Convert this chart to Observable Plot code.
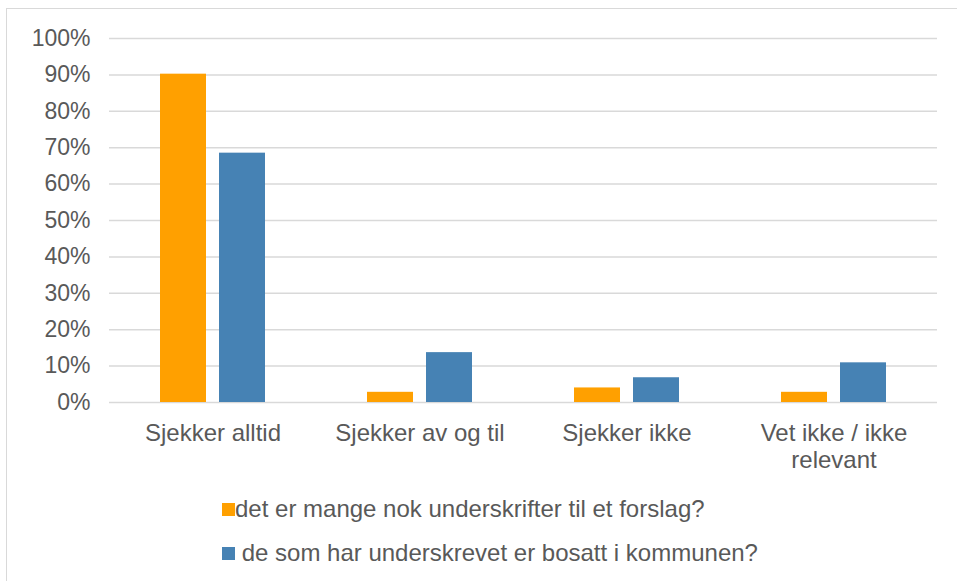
<!DOCTYPE html>
<html><head><meta charset="utf-8">
<script src="https://cdn.jsdelivr.net/npm/d3@7"></script>
<script src="https://cdn.jsdelivr.net/npm/@observablehq/plot@0.6"></script>
<style>
body{margin:0;background:#fff;overflow:hidden;font-family:"Liberation Sans",Arial,sans-serif;}
#wrap{position:relative;width:957px;height:581px;overflow:hidden;}
#frame{position:absolute;left:6px;top:8px;width:1000px;height:700px;border:1.5px solid #d9d9d9;z-index:5;}
#chart{position:absolute;left:0;top:0;}
.leg{position:absolute;left:222px;height:26px;font-size:24px;color:#595959;display:flex;align-items:center;white-space:pre;}
.sw{display:inline-block;width:13px;height:13px;margin-right:0px;}
</style></head><body>
<div id="wrap"><div id="chart"></div><div id="legend"></div><div id="frame"></div></div>
<script>
const categories = ["Sjekker alltid", "Sjekker av og til", "Sjekker ikke", "Vet ikke / ikke relevant"];
const seriesNames = ["det er mange nok underskrifter til et forslag?", " de som har underskrevet er bosatt i kommunen?"];
const seriesA = [0.902, 0.028, 0.040, 0.028];
const seriesB = [0.685, 0.137, 0.068, 0.109];
const colors = ["#FFA000", "#4682B4"];
const yTicks = [0, 0.1, 0.2, 0.3, 0.4, 0.5, 0.6, 0.7, 0.8, 0.9, 1.0];

const data = categories.flatMap((c, i) => [
  {category: c, series: seriesNames[0], value: seriesA[i]},
  {category: c, series: seriesNames[1], value: seriesB[i]}
]);

const chart = Plot.plot({
  width: 957, height: 480,
  marginLeft: 107, marginRight: 19, marginTop: 38, marginBottom: 78,
  style: {fontFamily: "'Liberation Sans', Arial, sans-serif", fontSize: "23px", color: "#595959", background: "transparent"},
  fx: {domain: categories, padding: 0, label: null, axis: null},
  x: {domain: seriesNames, paddingInner: 0.217, paddingOuter: 0.84, axis: null},
  y: {domain: [0, 1], axis: null},
  color: {domain: seriesNames, range: colors},
  marks: [
    Plot.ruleY(yTicks, {stroke: "#d9d9d9", strokeWidth: 1.5}),
    Plot.barY(data, {fx: "category", x: "series", y: "value", fill: "series"}),
    Plot.axisY({ticks: yTicks, tickFormat: d3.format(".0%"), tickSize: 0, tickPadding: 19, fontSize: 23, label: null}),
    Plot.axisFx({anchor: "bottom", tickSize: 0, tickPadding: 20, fontSize: 24, label: null, lineHeight: 1.1,
      tickFormat: d => d.replace("/ ikke relevant", "/ ikke\nrelevant")})
  ]
});
document.getElementById("chart").appendChild(chart);

const legend = document.getElementById("legend");
const tops = [496, 540];
seriesNames.forEach((name, i) => {
  const row = document.createElement("div");
  row.className = "leg";
  row.style.top = tops[i] + "px";
  const sw = document.createElement("span");
  sw.className = "sw";
  sw.style.background = colors[i];
  row.appendChild(sw);
  const t = document.createElement("span");
  t.textContent = name;
  row.appendChild(t);
  legend.appendChild(row);
});
</script>
</body></html>
